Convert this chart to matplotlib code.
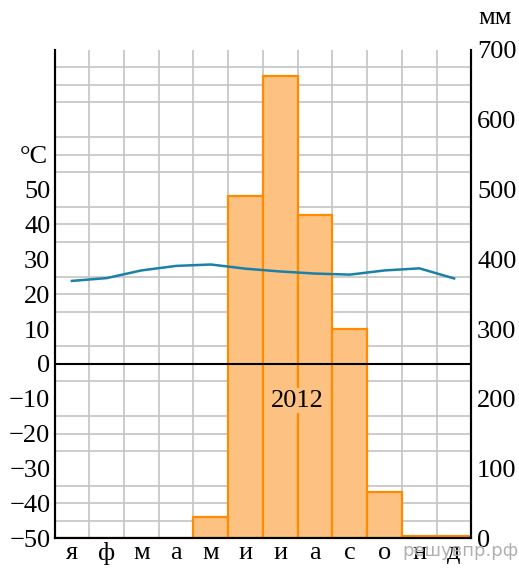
import matplotlib
matplotlib.use('Agg')
import matplotlib.pyplot as plt
import numpy as np

months = ['я', 'ф', 'м', 'а', 'м', 'и', 'и', 'а', 'с', 'о', 'н', 'д']
precip = [0, 0, 0, 0, 30, 490, 663, 464, 300, 66, 4, 4]          # мм
temp = [23.8, 24.6, 26.8, 28.1, 28.5, 27.3, 26.5, 25.9, 25.6, 26.8, 27.4, 24.5]  # °C
year = '2012'

plt.rcParams['font.family'] = ['Liberation Serif', 'DejaVu Serif']
fs = 19
bar_fill = '#fdc282'
bar_edge = '#ff8c00'

fig = plt.figure(figsize=(5.19, 5.71), dpi=100)
ax = fig.add_axes([54.5/519, (571-538.3)/571, 417/519, 488.3/571])
ax2 = ax.twinx()

x = np.arange(len(months))
ax.bar(x, precip, width=1.0, color=bar_fill, edgecolor=bar_edge, linewidth=1.6, zorder=2)
ax.set_xlim(-0.5, 11.5)
ax.set_ylim(0, 700)
ax.set_yticks(np.arange(0, 701, 100))
ax.set_yticks(np.arange(0, 701, 25), minor=True)
ax.set_xticks(x)
ax.set_xticklabels(months, fontsize=fs)
ax.set_xticks(np.arange(0.5, 11, 1), minor=True)
ax.tick_params(axis='both', which='both', length=0)
ax.tick_params(axis='y', pad=4, labelsize=fs)
ax.tick_params(axis='x', pad=3)
ax.grid(True, which='minor', color='#c4c4c4', linewidth=1.2, zorder=0)
ax.set_axisbelow(True)
ax.spines['top'].set_visible(False)
for s in ['left', 'right', 'bottom']:
    ax.spines[s].set_linewidth(1.5)

# temperature axis on the left, precipitation on the right
ax2.set_ylim(-50, 90)
ax2.set_yticks(np.arange(-50, 51, 10))
ax2.tick_params(axis='y', length=0, pad=3, labelsize=fs)
ax2.yaxis.tick_left()
ax2.yaxis.set_label_position('left')
ax.yaxis.tick_right()
ax.yaxis.set_label_position('right')
ax2.spines['top'].set_visible(False)
for s in ['left', 'right', 'bottom']:
    ax2.spines[s].set_linewidth(1.5)
ax2.axhline(0, color='black', linewidth=1.5, zorder=3)
ax2.plot(x, temp, color='#1a80a8', linewidth=1.8, zorder=4)
ax2.text(6.5, -10.5, year, fontsize=fs, ha='center', va='center', zorder=5,
         bbox=dict(facecolor=bar_fill, edgecolor='none', pad=1))

fig.text(34/519, 1-157/571, '°C', fontsize=fs, ha='center', va='center')
fig.text(495/519, 1-18/571, 'мм', fontsize=fs, ha='center', va='center')
fig.text(460/519, 1-551/571, 'решувпр.рф', fontsize=13, ha='center', va='center',
         color='#b0b0b0', family=['DejaVu Sans'], zorder=10)

fig.savefig('out.png', dpi=100)
